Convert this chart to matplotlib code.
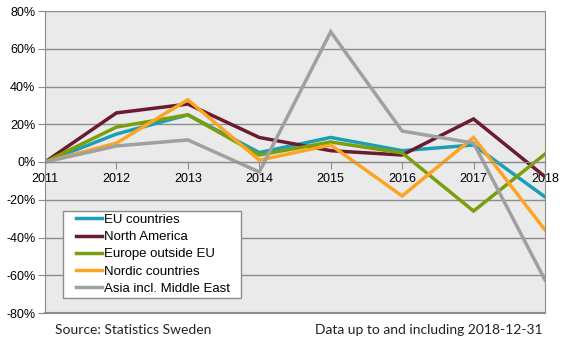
import matplotlib
matplotlib.use("Agg")
import matplotlib.pyplot as plt
from matplotlib.ticker import FuncFormatter
from matplotlib.patches import Rectangle

years = [2011, 2012, 2013, 2014, 2015, 2016, 2017, 2018]
eu = [0, 14.8, 25, 5, 13, 6, 9, -18.5]
north_america = [0, 26, 30.7, 13, 6, 3.7, 22.8, -7.8]
europe_outside = [0, 18.5, 25, 3.7, 10.6, 4.8, -26, 4.2]
nordic = [0, 10, 33, 1, 9, -18, 13, -36]
asia = [0, 8.5, 11.7, -5.3, 69, 16.4, 10, -62.5]

series = [
    ("EU countries", eu, "#1A9FB6"),
    ("North America", north_america, "#6A1B2D"),
    ("Europe outside EU", europe_outside, "#7B9F0C"),
    ("Nordic countries", nordic, "#FCA522"),
    ("Asia incl. Middle East", asia, "#A0A0A0"),
]

W, H = 568, 341
plt.rcParams['font.family'] = ['Liberation Sans', 'DejaVu Sans']
fig = plt.figure(figsize=(W/100, H/100), dpi=100)
ax = fig.add_axes([45/W, 1-313/H, 500/W, 302/H])
ax.set_facecolor("#EAEAEA")

for name, vals, col in series:
    ax.plot(years, vals, color=col, lw=2.5, label=name, solid_joinstyle='miter')

ax.set_xlim(2011, 2018)
ax.set_ylim(-80, 80)
ax.set_yticks(range(-80, 81, 20))
ax.yaxis.set_major_formatter(FuncFormatter(lambda v, p: f"{int(v)}%"))
ax.grid(axis='y', color="#8C8C8C", lw=1)
ax.set_axisbelow(True)
ax.set_xticks(years)
ax.set_xticklabels([str(y) for y in years])

for s in ['left', 'right', 'top']:
    ax.spines[s].set_color("#8C8C8C")
ax.spines['top'].set_visible(False)
ax.spines['bottom'].set_position(('data', 0))
ax.spines['bottom'].set_color("#8C8C8C")
ax.axhline(-80, color="#8C8C8C", lw=1.5, clip_on=False)
ax.tick_params(axis='x', colors="#8C8C8C", labelcolor='black', length=5, labelsize=9, pad=3)
ax.tick_params(axis='y', colors="#8C8C8C", labelcolor='black', length=5, labelsize=9, pad=2)

# legend box
box = Rectangle((63/W, 1-298/H), 178/W, 87/H, transform=fig.transFigure,
                facecolor='white', edgecolor='#8C8C8C', lw=1, zorder=4)
fig.patches.append(box)

leg = fig.legend(*ax.get_legend_handles_labels(), loc='upper left',
                 bbox_to_anchor=(73/W, 1-211/H), fontsize=9.5,
                 frameon=False, handlelength=2.0, handletextpad=0.15,
                 labelspacing=0.38, borderpad=0.2, borderaxespad=0)
leg.set_zorder(5)

fig.text(55/W, 1-330/H, "Source: Statistics Sweden", fontsize=10, family=['Lato', 'DejaVu Sans'],
         va='center', ha='left', color='#222222')
fig.text(543/W, 1-330/H, "Data up to and including 2018-12-31", fontsize=10,
         family=['Lato', 'DejaVu Sans'], va='center', ha='right', color='#222222')

fig.savefig("out.png", dpi=100)
